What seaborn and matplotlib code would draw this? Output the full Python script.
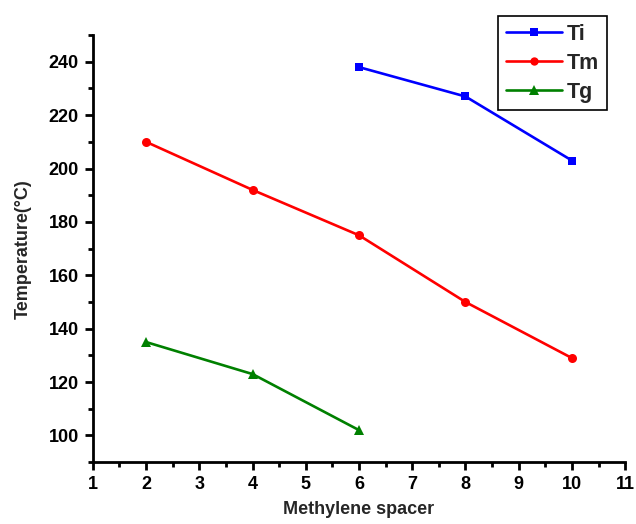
import matplotlib
matplotlib.use("Agg")
import matplotlib.pyplot as plt
import seaborn as sns
import pandas as pd
from matplotlib.ticker import MultipleLocator

# Data
ti_x = [6, 8, 10]
ti_y = [238, 227, 203]
tm_x = [2, 4, 6, 8, 10]
tm_y = [210, 192, 175, 150, 129]
tg_x = [2, 4, 6]
tg_y = [135, 123, 102]
series_names = ["Ti", "Tm", "Tg"]

df = pd.concat([
    pd.DataFrame({"x": ti_x, "y": ti_y, "series": "Ti"}),
    pd.DataFrame({"x": tm_x, "y": tm_y, "series": "Tm"}),
    pd.DataFrame({"x": tg_x, "y": tg_y, "series": "Tg"}),
], ignore_index=True)

sns.set_style("ticks")
plt.rcParams["font.family"] = ["Liberation Sans", "DejaVu Sans"]
plt.rcParams["font.weight"] = "bold"

fig = plt.figure(figsize=(6.36, 5.24), dpi=100)
ax = fig.add_axes([0.146, 0.118, 0.837, 0.815])

palette = {"Ti": "#0000ff", "Tm": "#ff0000", "Tg": "#008000"}
markers = {"Ti": "s", "Tm": "o", "Tg": "^"}
sizes = {"s": 6, "o": 6.5, "^": 7.5}
sns.lineplot(data=df, x="x", y="y", hue="series", style="series",
             hue_order=series_names, style_order=series_names,
             palette=palette, markers=markers, dashes=False,
             linewidth=1.9, markersize=6, markeredgewidth=0, ax=ax)
for ln in ax.lines:
    m = ln.get_marker()
    if m in sizes:
        ln.set_markersize(sizes[m])

ax.set_xlim(1, 11)
ax.set_ylim(90, 250)
ax.xaxis.set_major_locator(MultipleLocator(1))
ax.xaxis.set_minor_locator(MultipleLocator(0.5))
ax.yaxis.set_minor_locator(MultipleLocator(10))
ax.set_yticks(range(100, 241, 20))

for s in ["top", "right"]:
    ax.spines[s].set_visible(False)
for s in ["left", "bottom"]:
    ax.spines[s].set_linewidth(2.0)
    ax.spines[s].set_color("black")

ax.tick_params(which="major", direction="out", length=6, width=2, labelsize=13, colors="black", pad=4)
ax.tick_params(which="minor", direction="out", length=3.5, width=2, colors="black")
for lab in ax.get_xticklabels() + ax.get_yticklabels():
    lab.set_fontweight("bold")

ax.set_xlabel("Methylene spacer", fontsize=13, fontweight="bold", labelpad=6)
ax.set_ylabel("Temperature(°C)", fontsize=13, fontweight="bold", labelpad=12)

handles, labels = ax.get_legend_handles_labels()
leg = ax.legend(handles, labels, loc="upper left",
                bbox_to_anchor=(498 / 636, 1 - 16 / 524), bbox_transform=fig.transFigure,
                borderaxespad=0,
                frameon=True, fancybox=False, edgecolor="black", framealpha=1,
                prop={"size": 15.5, "weight": "bold"}, handlelength=2.6,
                handletextpad=0.25, borderpad=0.35, labelspacing=0.38)
leg.get_frame().set_linewidth(1.2)
for h in leg.legend_handles:
    m = h.get_marker()
    if m in sizes:
        h.set_markersize(sizes[m] - 0.5)
        h.set_linewidth(1.9)

fig.savefig("out.png", dpi=100, facecolor="white")
